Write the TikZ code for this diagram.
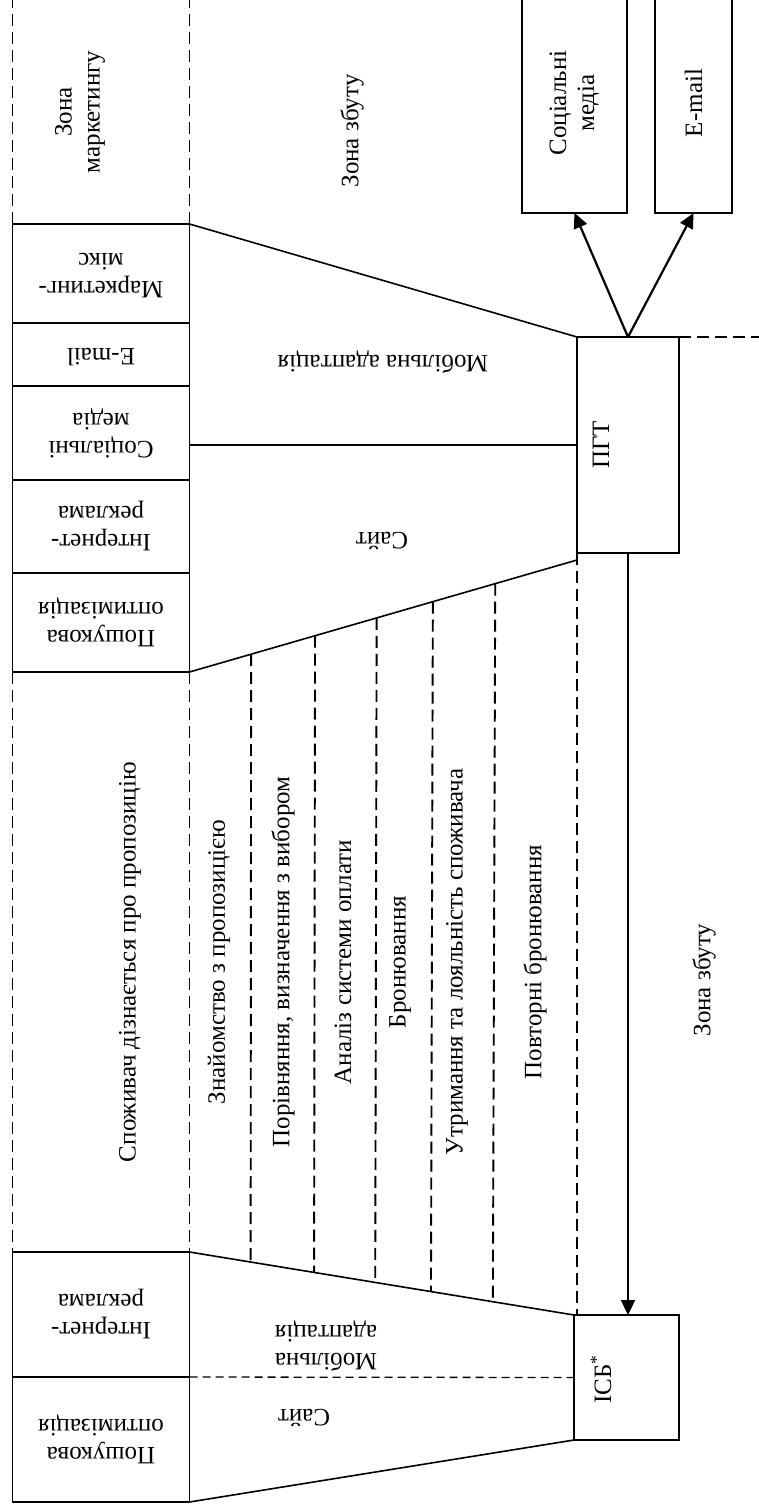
\documentclass[tikz,border=0pt]{standalone}
\usepackage{fontspec}
\setmainfont{Liberation Serif}
\usepackage{tikz}
\usetikzlibrary{positioning, calc, arrows.meta}

\newcommand{\upside}[1]{\rotatebox{180}{\begin{tabular}{@{}c@{}}#1\end{tabular}}}

\begin{document}
\begin{tikzpicture}[x=1pt, y=-1pt, line width=1.6pt,
	every node/.style={font=\fontsize{25}{28}\selectfont},
	box/.style={draw, inner sep=0pt, outer sep=0pt, minimum width=177pt},
	zone/.style={line width=1.9pt, dash pattern=on 12pt off 6pt},
	part/.style={line width=1.3pt, dash pattern=on 8pt off 5pt},
	arr/.style={line width=2.2pt, -{Triangle[length=15pt, width=14pt]}},
	turned/.style={rotate=90, align=center},
	flipped/.style={rotate=180, align=center}]
	
	\clip (0,0) rectangle (759,1510);
	\coordinate (top) at (0,-10);
	\coordinate (edge) at (770,0);
	
	\node [box, minimum height=99pt] (mix) at (101,273.5) {\upside{Маркетинг-\\мікс}};
	\node [box, minimum height=63pt, below=0pt of mix] (mail) {\upside{E-mail}};
	\node [box, minimum height=94pt, below=0pt of mail] (soc) {\upside{Соціальні\\медіа}};
	\node [box, minimum height=93pt, below=0pt of soc] (inet) {\upside{Інтернет-\\реклама}};
	\node [box, minimum height=99pt, below=0pt of inet] (seo) {\upside{Пошукова\\оптимізація}};
	
	\node [box, minimum height=125pt] (inet2) at (101,1314.5) {\upside{Інтернет-\\реклама}};
	\node [box, minimum height=125pt, below=0pt of inet2] (seo2) {\upside{Пошукова\\оптимізація}};
	
	\node [box, minimum width=102pt, minimum height=216pt] (pgt) at (628,445) {};
	\node [box, minimum width=105pt, minimum height=125pt] (isb) at (626.5,1377.5) {};
	\node [box, minimum width=105pt, minimum height=220pt] (socm) at (574.5,103) {\rotatebox{90}{\begin{tabular}{@{}c@{}}Соціальні\\медіа\end{tabular}}};
	\node [box, minimum width=77pt, minimum height=220pt] (emailm) at (693.5,103) {\rotatebox{90}{E-mail}};
	
	\coordinate (pgtlow) at ($(pgt.south west)+(0,7)$);
	\draw (mix.north east) -- (pgt.north west);
	\draw (seo.south east) -- (pgtlow);
	\draw (pgt.west -| soc.east) -- (pgt.west);
	\draw (inet2.north east) -- (isb.north west);
	\draw (seo2.south east) -- (isb.south west);
	\draw [part] (inet2.south east) -- (isb.west);
	
	\draw [zone] (mix.north west) -- (mix.north west |- top);
	\draw [zone] (mix.north east) -- (mix.north east |- top);
	\draw [zone] (pgt.north east) -- (pgt.north east -| edge);
	\draw [zone] (seo.south west) -- (inet2.north west);
	\draw [zone] (seo.south east) -- (inet2.north east);
	\foreach \t in {0.159, 0.324, 0.483, 0.628, 0.789}
		\draw [zone] ($(seo.south east)!\t!(pgtlow)$) -- ($(inet2.north east)!\t!(isb.north west)$);
	\draw [zone] (pgt.south west) -- (pgt.south west |- isb.north);
	
	\draw [arr] (pgt.north) -- (socm.south);
	\draw [arr] (pgt.north) -- (emailm.south);
	\draw [arr] (pgt.south) -- (pgt.south |- isb.north);
	
	\node [turned] (pgttext) at ($(pgt.west)+(24,0)$) {ПГТ};
	\node [turned] (isbtext) at ($(isb.west)+(27,2)$) {ІСБ\textsuperscript{*}};
	
	\node [turned] (mzone) at (80,112) {Зона\\маркетингу};
	\node [turned] (szone) at (352,131) {Зона збуту};
	\node [turned] (szone2) at (704,980) {Зона збуту};
	\node [flipped] (mob) at (383,362) {Мобільна адаптація};
	\node [flipped] (site) at (382,541) {Сайт};
	\node [flipped] (mob2) at (326,1346) {Мобільна\\адаптація};
	\node [flipped] (site2) at (304,1418) {Сайт};
	
	\foreach \x/\s in {130/Споживач дізнається про пропозицію, 219/Знайомство з пропозицією, {283/Порівняння, визначення з вибором}, 343/Аналіз системи оплати, 400/Бронювання, 457/Утримання та лояльність споживача, 535/Повторні бронювання}
		\node [turned] (stage\x) at (\x,962) {\s};
\end{tikzpicture}
\end{document}
